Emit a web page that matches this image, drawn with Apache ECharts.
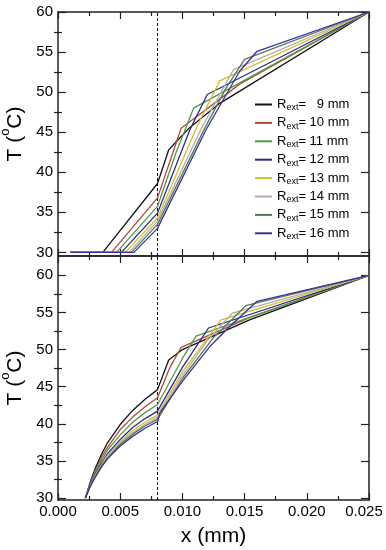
<!DOCTYPE html>
<html><head><meta charset="utf-8">
<script src="https://cdn.jsdelivr.net/npm/echarts@6/dist/echarts.min.js"></script>
<style>html,body{margin:0;padding:0;background:#fff}#c{width:386px;height:550px}</style>
</head><body><div id="c"></div>
<script>
// ---------- data ----------
const radii = [9, 10, 11, 12, 13, 14, 15, 16];           // R_ext (mm)
const xTickValues = [0, 0.005, 0.01, 0.015, 0.02, 0.025];
const yMajorTicks = [30, 35, 40, 45, 50, 55, 60];
const yMinorTicks = [32.5, 37.5, 42.5, 47.5, 52.5, 57.5];
const interfaceX = 0.008;
const topYRange = [29.55, 60];
const botYRange = [29.73, 62.6];

// top panel  [x (mm), T (°C)]
const topR9  = [[0.001,30],[0.0036,30],[0.008,38.6],[0.0089,42.8],[0.0095,43.8],[0.0106,45.6],[0.013,48.6],[0.025,60]];
const topR10 = [[0.001,30],[0.0043,30],[0.008,36.8],[0.0099,45.5],[0.0146,51.0],[0.025,60]];
const topR11 = [[0.001,30],[0.0047,30],[0.008,35.75],[0.0095,42.5],[0.0109,48.0],[0.025,60]];
const topR12 = [[0.001,30],[0.0051,30],[0.008,34.9],[0.0106,45.3],[0.0120,49.7],[0.025,60]];
const topR13 = [[0.001,30],[0.0054,30],[0.008,34.3],[0.0112,45.8],[0.0130,51.4],[0.025,60]];
const topR14 = [[0.001,30],[0.0057,30],[0.008,33.9],[0.0115,45.4],[0.0141,52.8],[0.025,60]];
const topR15 = [[0.001,30],[0.0059,30],[0.008,33.5],[0.0117,45.2],[0.0135,50.5],[0.0150,54.1],[0.025,60]];
const topR16 = [[0.001,30],[0.0061,30],[0.008,33.0],[0.0119,45.3],[0.0146,52.6],[0.0160,55.1],[0.025,60]];

// bottom panel  [x (mm), T (°C)]
const botR9  = [[0.0022,30],[0.0026,32.2],[0.003,34.0],[0.0035,35.9],[0.004,37.5],[0.005,39.9],[0.006,41.8],[0.007,43.3],[0.008,44.6],[0.0089,48.6],[0.0100,50.0],[0.0154,54.0],[0.025,60]];
const botR10 = [[0.0022,30],[0.0026,32.0],[0.003,33.7],[0.0035,35.5],[0.004,36.9],[0.005,39.2],[0.006,40.9],[0.007,42.3],[0.008,43.5],[0.0090,47.6],[0.0099,50.3],[0.0154,54.3],[0.025,60]];
const botR11 = [[0.0022,30],[0.0026,31.9],[0.003,33.5],[0.0035,35.1],[0.004,36.5],[0.005,38.5],[0.006,40.2],[0.007,41.5],[0.008,42.6],[0.0100,48.8],[0.0111,51.8],[0.025,60]];
const botR12 = [[0.0022,30],[0.0026,31.8],[0.003,33.2],[0.0035,34.7],[0.004,36.0],[0.005,37.9],[0.006,39.5],[0.007,40.7],[0.008,41.7],[0.0100,47.6],[0.0121,52.9],[0.025,60]];
const botR13 = [[0.0022,30],[0.0026,31.7],[0.003,33.1],[0.0035,34.5],[0.004,35.8],[0.005,37.6],[0.006,39.1],[0.007,40.2],[0.008,41.2],[0.0100,47.0],[0.0131,54.0],[0.025,60]];
const botR14 = [[0.0022,30],[0.0026,31.6],[0.003,33.0],[0.0035,34.4],[0.004,35.6],[0.005,37.4],[0.006,38.8],[0.007,39.9],[0.008,40.9],[0.0100,46.5],[0.0120,51.2],[0.0140,54.9],[0.025,60]];
const botR15 = [[0.0022,30],[0.0026,31.6],[0.003,32.9],[0.0035,34.3],[0.004,35.4],[0.005,37.2],[0.006,38.6],[0.007,39.7],[0.008,40.6],[0.0100,46.1],[0.0125,51.6],[0.0151,55.9],[0.025,60]];
const botR16 = [[0.0022,30],[0.0026,31.6],[0.003,32.8],[0.0035,34.2],[0.004,35.3],[0.005,37.0],[0.006,38.3],[0.007,39.4],[0.008,40.3],[0.0082,41.5],[0.0100,45.7],[0.0122,50.4],[0.0138,53.1],[0.0160,56.5],[0.025,60]];

const topSeriesData = [topR9, topR10, topR11, topR12, topR13, topR14, topR15, topR16];
const botSeriesData = [botR9, botR10, botR11, botR12, botR13, botR14, botR15, botR16];

// ---------- styles ----------
const colors = ['#111111', '#b04a3a', '#4f9a4a', '#2a2a88', '#d2bd2a', '#bba8a2', '#4d7a58', '#3f2f9c'];
const axisColor = '#222';
const font = 'Liberation Sans, Arial, sans-serif';
const lastXTick = xTickValues[xTickValues.length - 1];

function xAxisDef(gridIndex, position, withLabels) {
  return {
    type: 'value', gridIndex, position, min: 0, max: 0.025, interval: 0.005,
    axisLine: { show: true, onZero: false, lineStyle: { color: axisColor, width: 1.5 } },
    axisTick: { show: true, inside: true, length: 7, lineStyle: { color: axisColor, width: 1.2 } },
    minorTick: { show: true, splitNumber: 2, length: 4, lineStyle: { color: axisColor, width: 1.2 } },
    splitLine: { show: false }, minorSplitLine: { show: false },
    axisLabel: withLabels ? { show: true, margin: 4, fontSize: 15, color: '#000', fontFamily: font,
      formatter: v => Math.abs(v - lastXTick) < 1e-9 ? '{last|' + v.toFixed(3) + '}' : v.toFixed(3),
      rich: { last: { fontSize: 15, fontFamily: font, color: '#000', padding: [0, 10, 0, 0] } },
      customValues: xTickValues } : { show: false },
    name: withLabels ? 'x (mm)' : '', nameLocation: 'middle', nameGap: 26,
    nameTextStyle: { fontSize: 21, color: '#000', fontFamily: font }
  };
}
function yAxisDefs(gridIndex, range) {
  const common = { type: 'value', gridIndex, min: range[0], max: range[1], splitLine: { show: false } };
  return [
    Object.assign({}, common, {
      position: 'left',
      axisLine: { show: true, onZero: false, lineStyle: { color: axisColor, width: 1.5 } },
      axisTick: { show: true, inside: true, length: 8, customValues: yMajorTicks, lineStyle: { color: axisColor, width: 1.2 } },
      axisLabel: { show: true, margin: 5, fontSize: 15, color: '#000', fontFamily: font, customValues: yMajorTicks },
      name: '{t|T (}{s|o}{t|C)}', nameLocation: 'middle', nameRotate: 90, nameGap: 28,
      nameTextStyle: { color: '#000', fontFamily: font,
        rich: { t: { fontSize: 21, fontFamily: font, color: '#000', lineHeight: 26, verticalAlign: 'bottom' },
                s: { fontSize: 13, fontFamily: font, color: '#000', verticalAlign: 'top', lineHeight: 14 } } }
    }),
    Object.assign({}, common, {
      position: 'left', offset: 0,
      axisLine: { show: false },
      axisTick: { show: true, inside: true, length: 4, customValues: yMinorTicks, lineStyle: { color: axisColor, width: 1.2 } },
      axisLabel: { show: false }
    }),
    Object.assign({}, common, {
      position: 'right', offset: 0,
      axisLine: { show: true, onZero: false, lineStyle: { color: axisColor, width: 1.5 } },
      axisTick: { show: true, inside: true, length: 8, customValues: yMajorTicks, lineStyle: { color: axisColor, width: 1.2 } },
      axisLabel: { show: false }
    }),
    Object.assign({}, common, {
      position: 'right', offset: 0,
      axisLine: { show: false },
      axisTick: { show: true, inside: true, length: 4, customValues: yMinorTicks, lineStyle: { color: axisColor, width: 1.2 } },
      axisLabel: { show: false }
    })
  ];
}

const series = [];
function addPanel(dataList, xIdx, yIdx, range) {
  dataList.forEach((d, i) => {
    series.push({
      type: 'line', name: 'R' + radii[i], data: d, xAxisIndex: xIdx, yAxisIndex: yIdx,
      symbol: 'none', showSymbol: false, clip: true, z: 3,
      lineStyle: { color: colors[i], width: 1.3 }, itemStyle: { color: colors[i] }
    });
  });
  // dashed interface line
  series.push({
    type: 'line', name: 'interface', data: [[interfaceX, range[0]], [interfaceX, range[1]]],
    xAxisIndex: xIdx, yAxisIndex: yIdx, symbol: 'none', silent: true, z: 2,
    lineStyle: { type: [3, 2], color: '#000', width: 1 }
  });
}
addPanel(topSeriesData, 0, 0, topYRange);
addPanel(botSeriesData, 2, 4, botYRange);

const legendNames = radii.map(r => 'R' + r);
const chart = echarts.init(document.getElementById('c'), null, { renderer: 'canvas' });
chart.setOption({
  animation: false,
  backgroundColor: '#fff',
  grid: [
    { left: 58, top: 12, width: 311, height: 244, containLabel: false, outerBoundsMode: 'none' },
    { left: 58, top: 256, width: 311, height: 244, containLabel: false, outerBoundsMode: 'none' }
  ],
  xAxis: [xAxisDef(0, 'bottom', false), xAxisDef(0, 'top', false), xAxisDef(1, 'bottom', true), xAxisDef(1, 'top', false)],
  yAxis: [].concat(yAxisDefs(0, topYRange), yAxisDefs(1, botYRange)),
  legend: {
    data: legendNames, orient: 'vertical', left: 250, top: 93, itemWidth: 17, itemHeight: 2, itemGap: 3.9,
    icon: 'rect', selectedMode: false,
    formatter: name => {
      const r = name.slice(1);
      return '{a|R}{b|ext}{a|= ' + (r.length < 2 ? '  ' : '') + r + ' mm}';
    },
    textStyle: {
      fontFamily: font, color: '#000',
      rich: {
        a: { fontSize: 13, fontFamily: font, color: '#000', lineHeight: 16 },
        b: { fontSize: 9, fontFamily: font, color: '#000', lineHeight: 16, verticalAlign: 'bottom', padding: [5, 0, 0, 0] }
      }
    }
  },
  series
});
</script></body></html>
